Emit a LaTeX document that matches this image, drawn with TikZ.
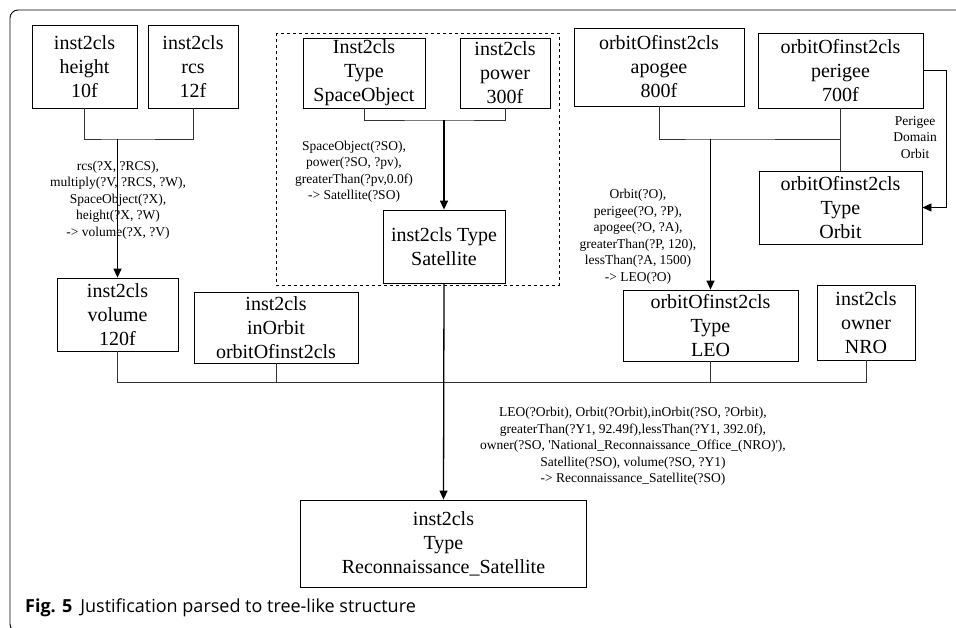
\documentclass[tikz,border=0pt]{standalone}
\usepackage{fontspec}
\setmainfont{Liberation Serif}
\newfontfamily\capfont{Open Sans}
\usetikzlibrary{arrows.meta,calc}
\begin{document}
\begin{tikzpicture}[x=1pt,y=-1pt,
  box/.style={draw, line width=0.8pt, inner sep=0pt, align=center, font=\fontsize{20}{24}\selectfont},
  rule/.style={align=center, inner sep=0pt, font=\fontsize{13.5}{16.5}\selectfont},
  conn/.style={line width=0.8pt, draw=black!80},
  arr/.style={line width=1.3pt, -{Triangle[length=9pt,width=8pt]}},
]
\useasboundingbox (0,0) rectangle (956,628);
\draw[line width=0.9pt, rounded corners=8pt] (960,10) -- (10,10) -- (10,632) -- (40,632);

% left cluster
\node[box, minimum width=105, minimum height=83] (height) at (84.5,66.5) {inst2cls\\height\\10f};
\node[box, minimum width=90, minimum height=83] (rcs) at (193,66.5) {inst2cls\\rcs\\12f};
\node[box, minimum width=121, minimum height=73] (volume) at (117.5,314.5) {inst2cls\\volume\\120f};
\coordinate (j1) at (117.5,139);
\draw[conn] (height.south) |- (j1) -| (rcs.south);
\draw[arr] (j1) -- (volume.north);
\node[rule] (rvol) at (118,200) {rcs(?X, ?RCS),\\multiply(?V, ?RCS, ?W),\\SpaceObject(?X),\\height(?X, ?W)\\-> volume(?X, ?V)};

% dashed cluster
\draw[dashed, line width=0.7pt] (276,33) rectangle (559,285);
\node[box, minimum width=122, minimum height=70] (so) at (364,73) {Inst2cls\\Type\\SpaceObject};
\node[box, minimum width=90, minimum height=70] (power) at (505,73) {inst2cls\\power\\300f};
\node[box, minimum width=122, minimum height=73] (sat) at (444,246.5) {inst2cls Type\\Satellite};
\coordinate (j2) at (444,120);
\draw[conn] (so.south) |- (j2) -| (power.south);
\draw[arr] (j2) -- (sat.north);
\node[rule] (rsat) at (354,172) {SpaceObject(?SO),\\power(?SO, ?pv),\\greaterThan(?pv,0.0f)\\-> Satellite(?SO)};

% orbit cluster
\node[box, minimum width=170, minimum height=78] (apogee) at (659,67) {orbitOfinst2cls\\apogee\\800f};
\node[box, minimum width=165, minimum height=75] (perigee) at (840.5,70.5) {orbitOfinst2cls\\perigee\\700f};
\node[box, minimum width=163, minimum height=73] (orbit) at (840.5,207.5) {orbitOfinst2cls\\Type\\Orbit};
\node[box, minimum width=175, minimum height=71] (leo) at (710.5,325.5) {orbitOfinst2cls\\Type\\LEO};
\node[box, minimum width=98, minimum height=75] (owner) at (866,322.5) {inst2cls\\owner\\NRO};
\coordinate (j3) at (710.5,139);
\draw[conn] (apogee.south) |- (j3) -- (j3 -| perigee.south);
\draw[conn] (perigee.south) -- (orbit.north);
\draw[arr] (j3) -- (leo.north);
\draw[line width=0.8pt, -{Triangle[length=9pt,width=8pt]}] (perigee.east) -- ++(23,0) |- (orbit.east);
\node[rule] (rper) at (915,137.5) {Perigee\\Domain\\Orbit};
\node[rule] (rleo) at (638,237) {Orbit(?O),\\perigee(?O, ?P),\\apogee(?O, ?A),\\greaterThan(?P, 120),\\lessThan(?A, 1500)\\-> LEO(?O)};

% bottom
\node[box, minimum width=164, minimum height=71] (inorbit) at (276,327.5) {inst2cls\\inOrbit\\orbitOfinst2cls};
\node[box, minimum width=286, minimum height=87] (recon) at (443.5,543.5) {inst2cls\\Type\\Reconnaissance\_Satellite};
\coordinate (j4) at (444,382);
\draw[conn] (volume.south) |- (owner.south |- j4) -- (owner.south);
\draw[conn] (inorbit.south) -- (inorbit.south |- j4);
\draw[conn] (leo.south) -- (leo.south |- j4);
\draw[arr] (sat.south) -- (recon.north);
\node[rule] (rrec) at (633,446.5) {LEO(?Orbit), Orbit(?Orbit),inOrbit(?SO, ?Orbit),\\greaterThan(?Y1, 92.49f),lessThan(?Y1, 392.0f),\\owner(?SO, \textquotesingle National\_Reconnaissance\_Office\_(NRO)\textquotesingle),\\Satellite(?SO), volume(?SO, ?Y1)\\-> Reconnaissance\_Satellite(?SO)};

\node[anchor=west, inner sep=0pt, font=\capfont\fontsize{18}{21}\selectfont] (cap) at (25,608) {\textbf{Fig. 5}\hspace{8pt}Justification parsed to tree-like structure};
\end{tikzpicture}
\end{document}
